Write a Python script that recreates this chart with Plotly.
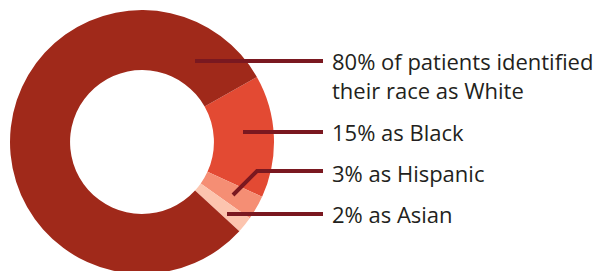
import plotly.graph_objects as go

W, H = 606, 271
OFF = 8  # page body margin offset

categories = ["Black", "Hispanic", "Asian", "White"]
values = [15, 3, 2, 80]
colors = ["#E34A33", "#F58E74", "#FCC4AE", "#A0291A"]
labels_text = [
    "80% of patients identified<br>their race as White",
    "15% as Black",
    "3% as Hispanic",
    "2% as Asian",
]
label_y_px = [76, 132, 173, 214]

def px(x):
    return (x - OFF) / W

def py(y):
    return 1 - (y - OFF) / H

fig = go.Figure()
fig.add_trace(go.Pie(
    labels=categories,
    values=values,
    marker=dict(colors=colors, line=dict(width=0)),
    hole=0.545,
    sort=False,
    direction="clockwise",
    rotation=60.5,
    textinfo="none",
    hoverinfo="label+percent",
    showlegend=False,
    domain=dict(x=[px(10), px(274)], y=[py(274), py(10)]),
))

line_color = "#7A1820"
line_w = 4
segments = [
    [(195, 61), (323, 61)],
    [(243, 132), (323, 132)],
    [(233, 195), (257, 171), (323, 171)],
    [(227, 214), (323, 214)],
]
for seg in segments:
    path = "M " + " L ".join(f"{px(x)},{py(y)}" for x, y in seg)
    fig.add_shape(type="path", path=path, xref="paper", yref="paper",
                  line=dict(color=line_color, width=line_w))

for txt, y in zip(labels_text, label_y_px):
    fig.add_annotation(text=txt, x=px(330), y=py(y), xref="paper", yref="paper",
                       xanchor="left", yanchor="middle", showarrow=False, align="left",
                       font=dict(family="Open Sans", size=22, color="#231F20"))

fig.update_layout(
    width=W, height=H,
    margin=dict(l=0, r=0, t=0, b=0),
    paper_bgcolor="white",
    plot_bgcolor="white",
)
fig.write_html("out.html")
